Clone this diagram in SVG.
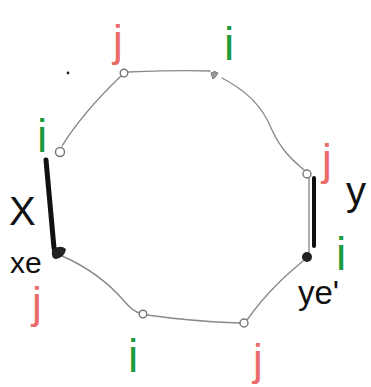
<svg xmlns="http://www.w3.org/2000/svg" width="371" height="387" viewBox="0 0 371 387">
<style>
.edge{fill:none;stroke:#8a8a8a;stroke-width:1.4;stroke-linecap:round}
.vtx{fill:#fff;stroke:#777;stroke-width:1.4}
.bar{stroke:#111;stroke-linecap:round;fill:none}
.lbl{font-family:"Liberation Sans","DejaVu Sans",sans-serif}
.gi{fill:#1f9a3c;font-size:46px}
.rj{fill:#ea6a6a;font-size:44px}
.blk{fill:#111}
</style>
<rect width="371" height="387" fill="#fff"/>
<g id="connectors">
<path class="edge" d="M128,72 C155,71 185,70 210,71"/>
<path class="edge" d="M222,78 C245,90 262,105 272,130 C282,152 295,162 304,170"/>
<path class="edge" d="M309,178 L309,252"/>
<path class="edge" d="M303,261 C290,272 268,290 247,320"/>
<path class="edge" d="M147,315 C175,319 210,322 240,323"/>
<path class="edge" d="M62,256 C85,266 108,282 125,302 C131,309 135,312 140,313"/>
<path class="edge" d="M62,146 C75,125 98,98 121,76"/>
</g>
<g id="bar-x"><path class="bar" stroke-width="5" d="M46,160 L54,248"/></g>
<g id="bar-y"><path class="bar" stroke-width="4" d="M314,178 L314,246"/></g>
<g id="v-tl"><circle class="vtx" cx="124" cy="73" r="3.8"/></g>
<g id="v-tr"><path d="M211,73 q4,-3 7,0 q-2,4 -5,6 z" fill="#9a9a9a" stroke="#777" stroke-width="1"/></g>
<g id="v-r1"><circle class="vtx" cx="307" cy="174" r="4"/></g>
<g id="v-r2"><circle cx="307" cy="257" r="5" fill="#222"/></g>
<g id="v-br"><circle class="vtx" cx="244" cy="323" r="4"/></g>
<g id="v-bl"><circle class="vtx" cx="143" cy="314" r="3.8"/></g>
<g id="v-l2"><path d="M52,250 q8,-6 14,-1 q-1,8 -10,10 q-5,0 -4,-9 z" fill="#222"/></g>
<g id="v-l1"><circle class="vtx" cx="60" cy="152" r="4.5"/></g>
<g id="labels">
<text class="lbl rj" x="118" y="56" text-anchor="middle">j</text>
<text class="lbl gi" x="229" y="60" text-anchor="middle">i</text>
<text class="lbl gi" x="42" y="152" text-anchor="middle">i</text>
<text class="lbl rj" x="327" y="175" text-anchor="middle">j</text>
<text class="lbl gi" x="341" y="270" text-anchor="middle">i</text>
<text class="lbl rj" x="258" y="375" text-anchor="middle">j</text>
<text class="lbl gi" x="133" y="372" text-anchor="middle">i</text>
<text class="lbl rj" x="37" y="318" text-anchor="middle" font-size="42">j</text>
<text class="lbl blk" x="9" y="225" font-size="40">X</text>
<text class="lbl blk" x="10" y="273" font-size="30">xe</text>
<text class="lbl blk" x="346" y="205" font-size="40">y</text>
<text class="lbl blk" x="298" y="304" font-size="33">ye'</text>
</g>
<circle cx="68" cy="73" r="1.4" fill="#222"/>
</svg>
